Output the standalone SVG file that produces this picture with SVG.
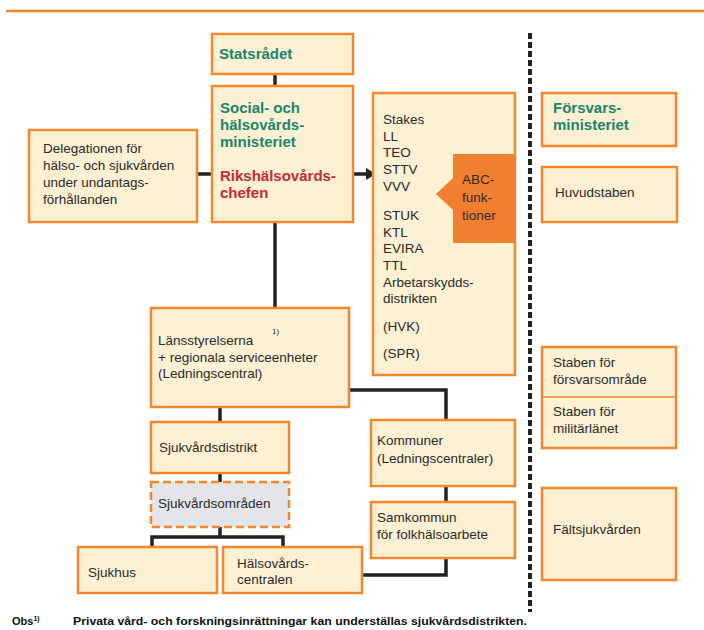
<svg xmlns="http://www.w3.org/2000/svg" width="704" height="630" viewBox="0 0 704 630">
<style>
.box{fill:#FEF0D3;stroke:#F4862C;stroke-width:2.5}
.dash{fill:#E3E5E8;stroke:#F4862C;stroke-width:2.5;stroke-dasharray:8 4}
.t{font-family:"Liberation Sans",Arial,sans-serif;font-size:13.5px;fill:#2a2a2a}
.b{font-family:"Liberation Sans",Arial,sans-serif;font-size:15px;font-weight:bold}
.g{fill:#17866D}
.r{fill:#C4283C}
.c{fill:none;stroke:#222;stroke-width:3.5}
</style>
<defs>
<marker id="ah" markerWidth="10" markerHeight="12" refX="9" refY="6" orient="auto" markerUnits="userSpaceOnUse">
<path d="M0,0 L10,6 L0,12 Z" fill="#222"/>
</marker>
</defs>
<rect width="704" height="630" fill="#fff"/>
<line x1="6" y1="11" x2="704" y2="11" stroke="#F4862C" stroke-width="2.5"/>
<line x1="530" y1="33" x2="530" y2="612" stroke="#222" stroke-width="4" stroke-dasharray="6 3"/>

<g id="connectors">
<line class="c" x1="275" y1="74" x2="275" y2="86"/>
<line class="c" x1="197" y1="174" x2="212" y2="174"/>
<line class="c" x1="353" y1="174" x2="375" y2="174" marker-end="url(#ah)"/>
<line class="c" x1="275" y1="222" x2="275" y2="308"/>
<line class="c" x1="220" y1="407" x2="220" y2="422"/>
<line class="c" x1="220" y1="473" x2="220" y2="482"/>
<polyline class="c" points="152,547 152,537 283,537 283,547"/>
<line class="c" x1="220" y1="527" x2="220" y2="537"/>
<polyline class="c" points="349,390 446,390 446,420"/>
<line class="c" x1="446" y1="486" x2="446" y2="502"/>
<polyline class="c" points="446,558 446,575 362,575"/>
</g>

<g id="statsradet">
<rect class="box" x="212" y="34" width="141" height="40"/>
<text class="b g" x="219" y="59">Statsrådet</text>
</g>

<g id="social">
<rect class="box" x="212" y="86" width="141" height="136"/>
<text class="b g" x="220" y="113">Social- och</text>
<text class="b g" x="220" y="130">hälsovårds-</text>
<text class="b g" x="220" y="147">ministeriet</text>
<text class="b r" x="220" y="181">Rikshälsovårds-</text>
<text class="b r" x="220" y="198">chefen</text>
</g>

<g id="delegationen">
<rect class="box" x="29" y="130" width="168" height="92"/>
<text class="t" x="43" y="153">Delegationen för</text>
<text class="t" x="43" y="170">hälso- och sjukvården</text>
<text class="t" x="43" y="187">under undantags-</text>
<text class="t" x="43" y="204">förhållanden</text>
</g>

<g id="stakes">
<rect class="box" x="373" y="93" width="142" height="282"/>
<text class="t" x="383" y="124">Stakes</text>
<text class="t" x="383" y="141">LL</text>
<text class="t" x="383" y="157">TEO</text>
<text class="t" x="383" y="174">STTV</text>
<text class="t" x="383" y="191">VVV</text>
<text class="t" x="383" y="220">STUK</text>
<text class="t" x="383" y="237">KTL</text>
<text class="t" x="383" y="253">EVIRA</text>
<text class="t" x="383" y="270">TTL</text>
<text class="t" x="383" y="287">Arbetarskydds-</text>
<text class="t" x="383" y="303">distrikten</text>
<text class="t" x="383" y="331">(HVK)</text>
<text class="t" x="383" y="358">(SPR)</text>
</g>

<g id="abc">
<polygon points="453,154 516,154 516,243 453,243 453,210 436,194 453,178" fill="#F08030"/>
<text class="t" x="462" y="184">ABC-</text>
<text class="t" x="462" y="202">funk-</text>
<text class="t" x="462" y="220">tioner</text>
</g>

<g id="forsvars">
<rect class="box" x="542" y="93" width="134" height="53"/>
<text class="b g" x="553" y="113">Försvars-</text>
<text class="b g" x="553" y="130">ministeriet</text>
</g>

<g id="huvudstaben">
<rect class="box" x="542" y="167" width="135" height="55"/>
<text class="t" x="555" y="197">Huvudstaben</text>
</g>

<g id="staben">
<rect class="box" x="542" y="347" width="134" height="101"/>
<line x1="542" y1="397" x2="676" y2="397" stroke="#F4862C" stroke-width="1.5"/>
<text class="t" x="553" y="367">Staben för</text>
<text class="t" x="553" y="384">försvarsområde</text>
<text class="t" x="553" y="416">Staben för</text>
<text class="t" x="553" y="433">militärlänet</text>
</g>

<g id="faltsjukvarden">
<rect class="box" x="542" y="488" width="134" height="92"/>
<text class="t" x="553" y="534">Fältsjukvården</text>
</g>

<g id="lansstyrelserna">
<rect class="box" x="151" y="308" width="198" height="99"/>
<text class="t" x="158" y="345">Länsstyrelserna</text>
<text class="t" x="272" y="334" style="font-size:8px">1)</text>
<text class="t" x="158" y="362">+ regionala serviceenheter</text>
<text class="t" x="158" y="378">(Ledningscentral)</text>
</g>

<g id="sjukvardsdistrikt">
<rect class="box" x="151" y="422" width="138" height="51"/>
<text class="t" x="159" y="452">Sjukvårdsdistrikt</text>
</g>

<g id="sjukvardsomraden">
<rect class="dash" x="151" y="482" width="138" height="45"/>
<text class="t" x="158" y="508">Sjukvårdsområden</text>
</g>

<g id="sjukhus">
<rect class="box" x="78" y="547" width="139" height="46"/>
<text class="t" x="88" y="577">Sjukhus</text>
</g>

<g id="halsovardscentralen">
<rect class="box" x="223" y="547" width="139" height="46"/>
<text class="t" x="237" y="568">Hälsovårds-</text>
<text class="t" x="237" y="584">centralen</text>
</g>

<g id="kommuner">
<rect class="box" x="371" y="420" width="144" height="66"/>
<text class="t" x="377" y="445">Kommuner</text>
<text class="t" x="377" y="463">(Ledningscentraler)</text>
</g>

<g id="samkommun">
<rect class="box" x="371" y="502" width="144" height="56"/>
<text class="t" x="377" y="522">Samkommun</text>
<text class="t" x="377" y="539">för folkhälsoarbete</text>
</g>

<g id="footnote">
<text x="12" y="625" style="font-family:'Liberation Sans',Arial,sans-serif;font-size:11px;font-weight:bold;fill:#111">Obs<tspan dy="-4" style="font-size:7px">1)</tspan></text>
<text x="73" y="625" textLength="454" lengthAdjust="spacingAndGlyphs" style="font-family:'Liberation Sans',Arial,sans-serif;font-size:11px;font-weight:bold;fill:#111">Privata vård- och forskningsinrättningar kan underställas sjukvårdsdistrikten.</text>
</g>
</svg>
